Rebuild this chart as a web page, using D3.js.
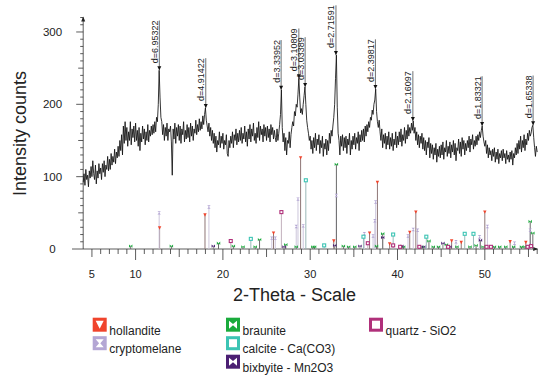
<!DOCTYPE html>
<html><head><meta charset="utf-8">
<script src="https://cdn.jsdelivr.net/npm/d3@7"></script>
<style>body{margin:0;background:#fff}svg{display:block}text{font-family:Arial,"Liberation Sans",sans-serif;fill:#222}</style>
</head><body><svg id="c" width="550" height="383"></svg>
<script>
// ---- data ----
const thetaStart = 4.0, thetaStep = 0.1;
const intensity = [
 92,104, 88,110, 96,102, 86,108, 98,114,
100,122,104, 96,116, 90,108, 98,118,104,
112, 96,118,106,122,100,116,110,128,108,
124,110,132,116,128,120,138,118,134,126,
142,128,150,136,158,130,170,146,176,150,
168,142,162,150,176,144,166,154,170,148,
174,150,164,142,168,136,160,148,170,152,
166,144,162,150,172,148,164,156,170,158,
172,160,176,162,182,176,200,247,210,182,
176,158,172,150,168,156,174,150,166,162,
170,148,102,166,152,174,146,168,156,172,
150,170,146,166,158,176,148,164,152,172,
154,168,148,174,156,170,150,166,160,178,
158,172,162,180,164,176,166,184,172,186,
195,178,170,162,174,156,168,150,164,146,
160,140,156,134,150,144,162,140,156,146,
160,138,150,144,158,132,128,150,140,156,
146,162,140,158,150,166,144,160,148,164,
150,168,146,160,152,170,148,162,142,166,
152,172,148,166,156,174,150,160,146,168,
154,176,150,170,158,166,148,172,156,168,
150,170,154,166,148,172,158,168,152,164,
154,148,166,150,160,172,186,220,168,148,
160,136,154,130,150,146,162,140,158,168,
176,170,190,184,200,196,214,236,210,188,
194,186,200,212,224,200,178,168,160,150,
156,138,150,132,154,140,160,136,152,144,
158,132,150,140,156,128,146,138,152,130,
150,136,160,146,164,156,170,182,200,236,
268,196,160,150,130,156,142,158,136,154,
140,156,132,152,144,160,130,150,138,156,
144,160,138,154,146,162,136,158,148,164,
150,166,148,170,156,172,162,176,168,182,
178,192,186,200,206,221,190,176,168,178,
162,150,166,140,158,146,160,138,156,144,
162,138,154,142,160,136,152,144,162,140,
156,144,162,148,166,142,158,150,168,146,
164,152,172,156,168,160,174,164,177,160,
168,150,162,144,158,140,156,146,160,138,
154,136,150,130,148,140,154,126,146,132,
144,124,140,130,146,120,138,128,142,126,
144,130,148,124,140,134,150,128,142,132,
148,126,144,134,150,130,146,122,140,136,
152,132,148,128,154,138,150,130,146,136,
150,140,156,134,152,144,158,138,150,142,
156,144,158,150,162,154,164,170,156,148,
142,150,132,144,126,140,130,136,122,138,
128,140,120,134,124,138,118,132,126,136,
122,138,126,132,118,136,124,130,120,134,
124,136,116,132,126,140,130,146,132,150,
138,156,134,150,140,158,136,152,144,160,
150,164,156,160,168,171,154,140,128,142,
134];
const peakLabels = ["d=6.95322","d=4.91422","d=3.33952","d=3.10809","d=3.03389","d=2.71591","d=2.39817","d=2.16097","d=1.83321","d=1.65338"];
const peakTheta  = [12.72, 18.04, 26.67, 28.70, 29.42, 32.95, 37.47, 41.76, 49.69, 55.53];
const peakCounts = [247, 195, 220, 236, 224, 268, 221, 177, 170, 171];

const phaseNames = ["hollandite","cryptomelane","braunite","calcite - Ca(CO3)","bixbyite - Mn2O3","quartz - SiO2"];
const phaseColors = ["#f0442c","#b4a6d4","#1aab3c","#3cc4b4","#4b1f73","#b0307a"];
const phaseLineColors = ["#8e7676","#cdc6dc","#6a6a6a","#9ab8b8","#808080","#c2b0bc"];
const phaseSymbols = ["tri","hour","bow","hollow","bow","hollow"];
const hollandite = [[12.75,29],[17.95,47],[25.8,22],[28.9,126],[32.7,11],[36.8,22],[37.7,92],[39.1,7],[41.4,23],[42.1,51],[46.2,11],[47.3,9],[50.0,51],[52.9,10],[54.7,9]];
const cryptomelane = [[12.7,50],[18.4,58],[25.6,15],[26.0,15],[28.4,31],[28.6,69],[29.2,32],[33.0,74],[36.2,21],[37.2,18],[37.4,39],[37.5,65],[41.2,18],[41.8,27],[42.3,26],[46.7,10],[49.4,17],[50.3,31],[53.4,8],[55.2,26]];
const braunite = [[9.44,4],[14.1,4],[19.5,8],[21.2,4],[22.3,3],[23.7,3],[24.2,13],[27.2,6],[28.4,3],[30.3,3],[30.5,3],[33.0,117],[33.8,4],[34.4,3],[35.1,3],[37.6,4],[38.3,21],[40.7,3],[42.8,3],[43.6,11],[44.1,3],[44.7,3],[45.6,6],[46.8,3],[48.3,3],[49.0,5],[49.8,3],[51.1,3],[51.7,3],[52.4,3],[53.3,3],[54.2,3],[54.6,3],[55.2,38],[55.5,22]];
const calcite = [[23.2,14],[29.5,95],[31.6,5],[36.1,17],[39.5,20],[43.3,17],[47.7,21],[48.7,21]];
const bixbyite = [[18.9,4],[27.0,3],[32.8,5],[35.7,4],[38.3,16],[40.5,4],[43.0,3],[45.2,8],[46.0,3],[49.5,12]];
const quartz = [[20.9,11],[26.7,51],[36.6,8],[39.5,5],[40.3,3],[42.5,3],[45.8,3],[50.2,3],[50.7,3],[54.9,3],[55.3,4]];
const phaseData = [hollandite, cryptomelane, braunite, calcite, bixbyite, quartz];

const xTickLabels = [5,10,20,30,40,50];
const yTickLabels = [0,100,200,300];

// ---- scales ----
const svg = d3.select("#c");
const x = d3.scaleLinear().domain([4, 56]).range([83.2, 537.2]);
const y = d3.scaleLinear().domain([0, 320]).range([249, 17.5]);

// ---- axes ----
const ax = svg.append("g").attr("stroke","#333").attr("stroke-width",0.8);
ax.append("line").attr("x1",72).attr("x2",x(56)).attr("y1",y(0)).attr("y2",y(0));
ax.append("line").attr("x1",x(4)).attr("x2",x(4)).attr("y1",y(0)).attr("y2",y(320));
d3.range(5,57).forEach(t=>{
  const len = t%10===0 ? 11 : (t%5===0 ? 8 : 5);
  ax.append("line").attr("x1",x(t)).attr("x2",x(t)).attr("y1",y(0)).attr("y2",y(0)+len);
});
d3.range(10,321,10).forEach(v=>{
  const len = v%100===0 ? 7 : (v%50===0 ? 5 : 3);
  ax.append("line").attr("x1",x(4)-len).attr("x2",x(4)).attr("y1",y(v)).attr("y2",y(v));
});
svg.append("path").attr("d",`M${x(4)-2},${y(320)+4}L${x(4)},${y(320)-1}L${x(4)+2},${y(320)+4}Z`).attr("fill","#222");
svg.append("path").attr("d",`M${x(56)-4},${y(0)-2}L${x(56)+1},${y(0)}L${x(56)-4},${y(0)+2}Z`).attr("fill","#222");

svg.append("g").selectAll("text").data(xTickLabels).join("text")
  .attr("x",d=>x(d)).attr("y",278).attr("text-anchor","middle").attr("font-size",11).text(d=>d);
svg.append("g").selectAll("text").data(yTickLabels).join("text")
  .attr("x",52.5).attr("y",d=>y(d)+4).attr("text-anchor","middle").attr("font-size",11.5).text(d=>d);

svg.append("text").attr("x",294.5).attr("y",301).attr("text-anchor","middle").attr("font-size",18).text("2-Theta - Scale");
svg.append("text").attr("transform","translate(25.5,133.5) rotate(-90)").attr("text-anchor","middle").attr("font-size",18).text("Intensity counts");

// ---- stick patterns ----
const sticks = svg.append("g");
phaseData.forEach((arr,i)=>{
  sticks.append("g").selectAll("line").data(arr).join("line")
    .attr("x1",d=>x(d[0])).attr("x2",d=>x(d[0])).attr("y1",y(0)).attr("y2",d=>y(d[1]))
    .attr("stroke",phaseLineColors[i]).attr("stroke-width",1);
});
function smallSym(g, type, cx, cy, col){
  const s = 1.7;
  if(type==="tri") g.append("path").attr("d",`M${cx-s},${cy-s}L${cx+s},${cy-s}L${cx},${cy+s}Z`).attr("fill",col);
  else if(type==="hour") g.append("path").attr("d",`M${cx-s},${cy-s}L${cx+s},${cy-s}L${cx},${cy}L${cx+s},${cy+s}L${cx-s},${cy+s}L${cx},${cy}Z`).attr("fill",col);
  else if(type==="bow") g.append("path").attr("d",`M${cx-s},${cy-s}L${cx},${cy}L${cx+s},${cy-s}L${cx+s},${cy+s}L${cx},${cy}L${cx-s},${cy+s}Z`).attr("fill",col);
  else g.append("rect").attr("x",cx-1.5).attr("y",cy-1.5).attr("width",3).attr("height",3).attr("fill","#fff").attr("stroke",col).attr("stroke-width",1.1);
}
phaseData.forEach((arr,i)=>{
  const g = sticks.append("g");
  arr.forEach(d=>smallSym(g, phaseSymbols[i], x(d[0]), y(d[1]), phaseColors[i]));
});

// ---- spectrum ----
const spec = intensity.map((v,i)=>[thetaStart+i*thetaStep, v]);
svg.append("path").datum(spec)
  .attr("d", d3.line().x(d=>x(d[0])).y(d=>y(d[1])))
  .attr("fill","none").attr("stroke","#111").attr("stroke-width",0.85).attr("stroke-linejoin","round");

// ---- peak labels ----
const pl = svg.append("g");
peakTheta.forEach((t,i)=>{
  const px = x(t), py = y(peakCounts[i]);
  const txt = pl.append("text").attr("transform",`translate(${px-1.5},${py-7}) rotate(-90)`)
    .attr("font-size",9).text(peakLabels[i]);
  const L = txt.node().getComputedTextLength();
  pl.append("line").attr("x1",px).attr("x2",px).attr("y1",py).attr("y2",py-7-L).attr("stroke","#333").attr("stroke-width",0.7);
  pl.append("path").attr("d",`M${px-2},${py-4}L${px+2},${py-4}L${px},${py}Z`).attr("fill","#111");
});

// ---- legend ----
const legPos = [[92.7,317.7],[92.7,336.2],[226,317.7],[226,336.2],[226,354.7],[369,317.7]];
const leg = svg.append("g");
phaseNames.forEach((n,i)=>{
  const [lx,ly] = legPos[i], s = 14, col = phaseColors[i], t = phaseSymbols[i];
  const g = leg.append("g");
  if(t==="hollow"){
    g.append("rect").attr("x",lx+1.5).attr("y",ly+1.5).attr("width",s-3).attr("height",s-3).attr("fill","#fff").attr("stroke",col).attr("stroke-width",3);
  } else {
    g.append("rect").attr("x",lx).attr("y",ly).attr("width",s).attr("height",s).attr("fill",col);
    let d;
    if(t==="tri") d=`M${lx+3},${ly+3}L${lx+11},${ly+3}L${lx+7},${ly+11}Z`;
    else if(t==="hour") d=`M${lx+3},${ly+3}L${lx+11},${ly+3}L${lx+7.6},${ly+7}L${lx+11},${ly+11}L${lx+3},${ly+11}L${lx+6.4},${ly+7}Z`;
    else d=`M${lx+3},${ly+3}L${lx+7},${ly+6.4}L${lx+11},${ly+3}L${lx+11},${ly+11}L${lx+7},${ly+7.6}L${lx+3},${ly+11}Z`;
    g.append("path").attr("d",d).attr("fill","#fff");
  }
  g.append("text").attr("x",lx+s+2.6).attr("y",ly+16.8).attr("font-size",12).text(n);
});
</script></body></html>
